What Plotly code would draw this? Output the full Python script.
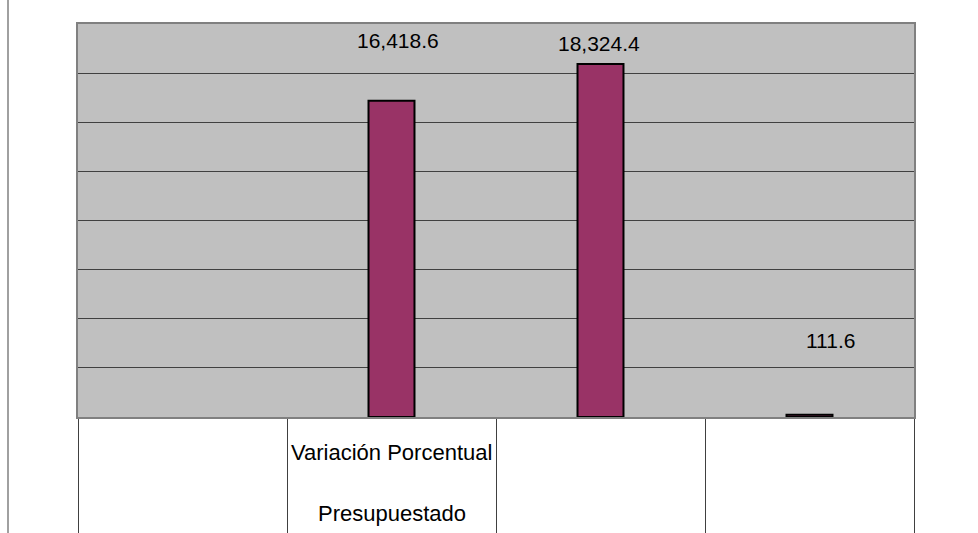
import plotly.graph_objects as go

# categories (table columns) and the single series
line1 = ["", "Variación Porcentual", "", ""]
line2 = ["", "Presupuestado", "", ""]
values = [None, 16418.6, 18324.4, 111.6]
labels = ["", "16,418.6", "18,324.4", "111.6"]

# page is captured a bit taller than 533 and squeezed; lay out for that
W, H = 978, 548
S = H / 533
L, R = 78, 64
T = round(23 * S)
B = H - round(417 * S)
ref_top, ref_bot = 23, 417          # plot area in reference pixels
ref_h = ref_bot - ref_top
plot_w = W - L - R


def py(ypx):
    # reference pixel row -> paper y
    return (ref_bot - ypx) / ref_h


pos = list(range(len(values)))

fig = go.Figure()
fig.add_trace(
    go.Bar(
        x=pos,
        y=values,
        width=0.22,
        marker=dict(color="#993366", line=dict(color="#000000", width=2)),
        hoverinfo="skip",
    )
)

# data labels sit where the original sheet put them, not on the bar tops
label_place = {1: (40, 6), 2: (43, -2), 3: (340, 21)}
for i, txt in enumerate(labels):
    if not txt:
        continue
    ypx, dx = label_place[i]
    fig.add_annotation(
        x=pos[i], y=py(ypx), xref="x", yref="paper",
        text=txt, showarrow=False, xshift=dx, yanchor="middle",
        font=dict(size=21, color="#000000"),
    )

# data table text under the axis
for i in pos:
    for txt, ypx in ((line1[i], 452.5), (line2[i], 514)):
        if txt:
            fig.add_annotation(
                x=pos[i], y=py(ypx), xref="x", yref="paper",
                text=txt, showarrow=False, yanchor="middle",
                font=dict(size=22, color="#000000"),
            )

# outer left frame line of the sheet
fig.add_shape(
    type="line", xref="paper", yref="paper",
    x0=(8 - L) / plot_w, x1=(8 - L) / plot_w,
    y0=py(540), y1=py(-5),
    line=dict(color="#808080", width=1.5),
)

fig.update_layout(
    width=W, height=H,
    margin=dict(l=L, r=R, t=T, b=B),
    paper_bgcolor="#ffffff",
    plot_bgcolor="#c0c0c0",
    showlegend=False,
    font=dict(family="Liberation Sans, Arial, sans-serif", color="#000000"),
)
fig.update_xaxes(
    range=[-0.5, len(values) - 0.5],
    tickvals=[p - 0.5 for p in pos] + [pos[-1] + 0.5],
    showticklabels=False,
    ticks="outside", ticklen=B, tickwidth=1, tickcolor="#404040",
    showgrid=False, zeroline=False,
    showline=True, linecolor="#808080", linewidth=2, mirror=True,
)
fig.update_yaxes(
    range=[0, 20400], dtick=2550,
    showticklabels=False, ticks="",
    showgrid=True, gridcolor="#404040", gridwidth=1,
    zeroline=False,
    showline=True, linecolor="#808080", linewidth=2, mirror=True,
)

fig.write_html(
    "out.html",
    config={"displayModeBar": False},
    post_script=(
        "var d=document.getElementsByClassName('plotly-graph-div')[0];"
        "d.style.position='fixed';d.style.top='0';d.style.left='0';"
        "document.body.style.margin='0';document.body.style.overflow='hidden';"
    ),
)
